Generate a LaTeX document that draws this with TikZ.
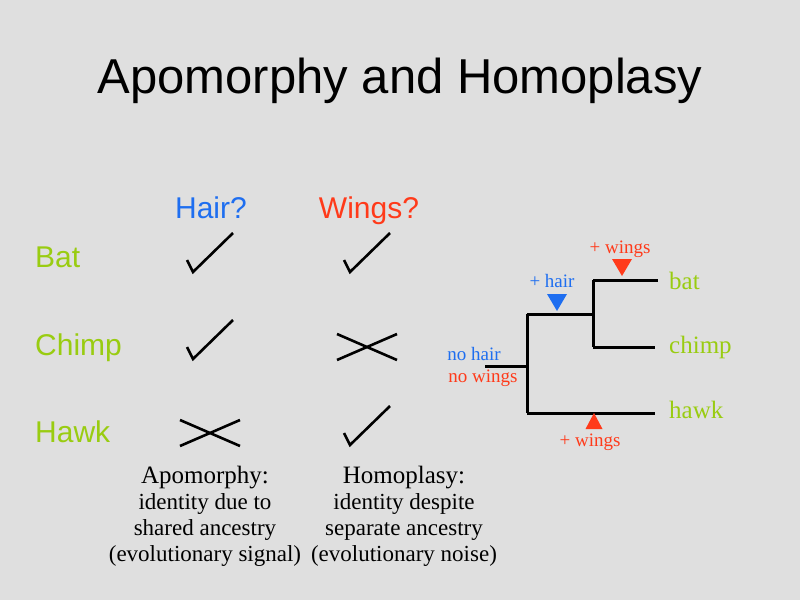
\documentclass[tikz,border=0pt]{standalone}
\usepackage{fontspec}
\setmainfont{Liberation Serif}
\setsansfont{Liberation Sans}
\definecolor{slidegray}{RGB}{223,223,223}
\definecolor{hairblue}{RGB}{30,110,240}
\definecolor{wingred}{RGB}{255,58,26}
\definecolor{taxgreen}{RGB}{153,204,17}
\tikzset{
  rowlabel/.style={font=\sffamily\fontsize{30}{32}\selectfont, text=taxgreen, anchor=base west, inner sep=0pt},
  collabel/.style={font=\sffamily\fontsize{30}{32}\selectfont, anchor=base, inner sep=0pt},
  treelabel/.style={font=\fontsize{19}{21}\selectfont, anchor=base, inner sep=0pt},
  leaflabel/.style={font=\fontsize{25}{27}\selectfont, text=taxgreen, anchor=base west, inner sep=0pt},
  branch/.style={line width=3pt},
  tickmark/.pic={\draw[line width=2.6pt] (-23,13) -- (-17,25) -- (23,-14);},
  crossmark/.pic={\draw[line width=2.6pt] (-30,-13) -- (30,13) (-30,13) -- (30,-13);},
  downmark/.pic={\fill (-10,-8) -- (10,-8) -- (0,9) -- cycle;},
  upmark/.pic={\fill (-8.5,8) -- (8.5,8) -- (0,-8) -- cycle;}
}

\begin{document}
\begin{tikzpicture}[x=1pt, y=-1pt]
  \fill[slidegray] (0,0) rectangle (800,600);
  \useasboundingbox (0,0) rectangle (800,600);

  \node[font=\sffamily\fontsize{49}{52}\selectfont, anchor=base, inner sep=0pt] (title) at (400,93) {Apomorphy and Homoplasy};

  % table of characters
  \node[collabel, text=hairblue] (hair) at (211,218) {Hair?};
  \node[collabel, text=wingred] (wings) at (369,218) {Wings?};
  \node[rowlabel] (bat) at (35,267) {Bat};
  \node[rowlabel] (chimp) at (35,355) {Chimp};
  \node[rowlabel] (hawk) at (35,442) {Hawk};

  \pic at (210,247) {tickmark};
  \pic at (367,247) {tickmark};
  \pic at (210,334) {tickmark};
  \pic at (367,347) {crossmark};
  \pic at (210,433) {crossmark};
  \pic at (367,420) {tickmark};

  \node[align=center, anchor=north, inner sep=0pt, font=\fontsize{23}{26}\selectfont] (apo) at (205,466)
    {{\fontsize{25}{26}\selectfont Apomorphy:}\\identity due to\\shared ancestry\\(evolutionary signal)};
  \node[align=center, anchor=north, inner sep=0pt, font=\fontsize{23}{26}\selectfont] (homo) at (404,466)
    {{\fontsize{25}{26}\selectfont Homoplasy:}\\identity despite\\separate ancestry\\(evolutionary noise)};

  % tree
  \coordinate (stem) at (485,366);
  \coordinate (root) at (527,366);
  \coordinate (mam) at (593,314);
  \coordinate (batend) at (658,280);
  \coordinate (chimpend) at (655,347);
  \coordinate (hawkend) at (655,413);
  \draw[branch] (stem) -- (root);
  \draw[branch] (root |- mam) -- (root |- hawkend);
  \draw[branch] (root |- mam) -- (mam);
  \draw[branch] (mam |- batend) -- (mam |- chimpend);
  \draw[branch] (mam |- batend) -- (batend);
  \draw[branch] (mam |- chimpend) -- (chimpend);
  \draw[branch] (root |- hawkend) -- (hawkend);

  \node[leaflabel] (batleaf) at (669,289) {bat};
  \node[leaflabel] (chimpleaf) at (669,353) {chimp};
  \node[leaflabel] (hawkleaf) at (669,418) {hawk};

  \pic[wingred] at (622,267) {downmark};
  \pic[hairblue] at (557,302) {downmark};
  \pic[wingred] at (594,421) {upmark};
  \node[treelabel, text=wingred] (winga) at (620,253) {+ wings};
  \node[treelabel, text=hairblue] (plushair) at (552,287) {+ hair};
  \node[treelabel, text=hairblue] (nohair) at (474,360) {no hair};
  \node[treelabel, text=wingred] (nowings) at (483,382) {no wings};
  \node[treelabel, text=wingred] (wingb) at (590,446) {+ wings};
\end{tikzpicture}
\end{document}
